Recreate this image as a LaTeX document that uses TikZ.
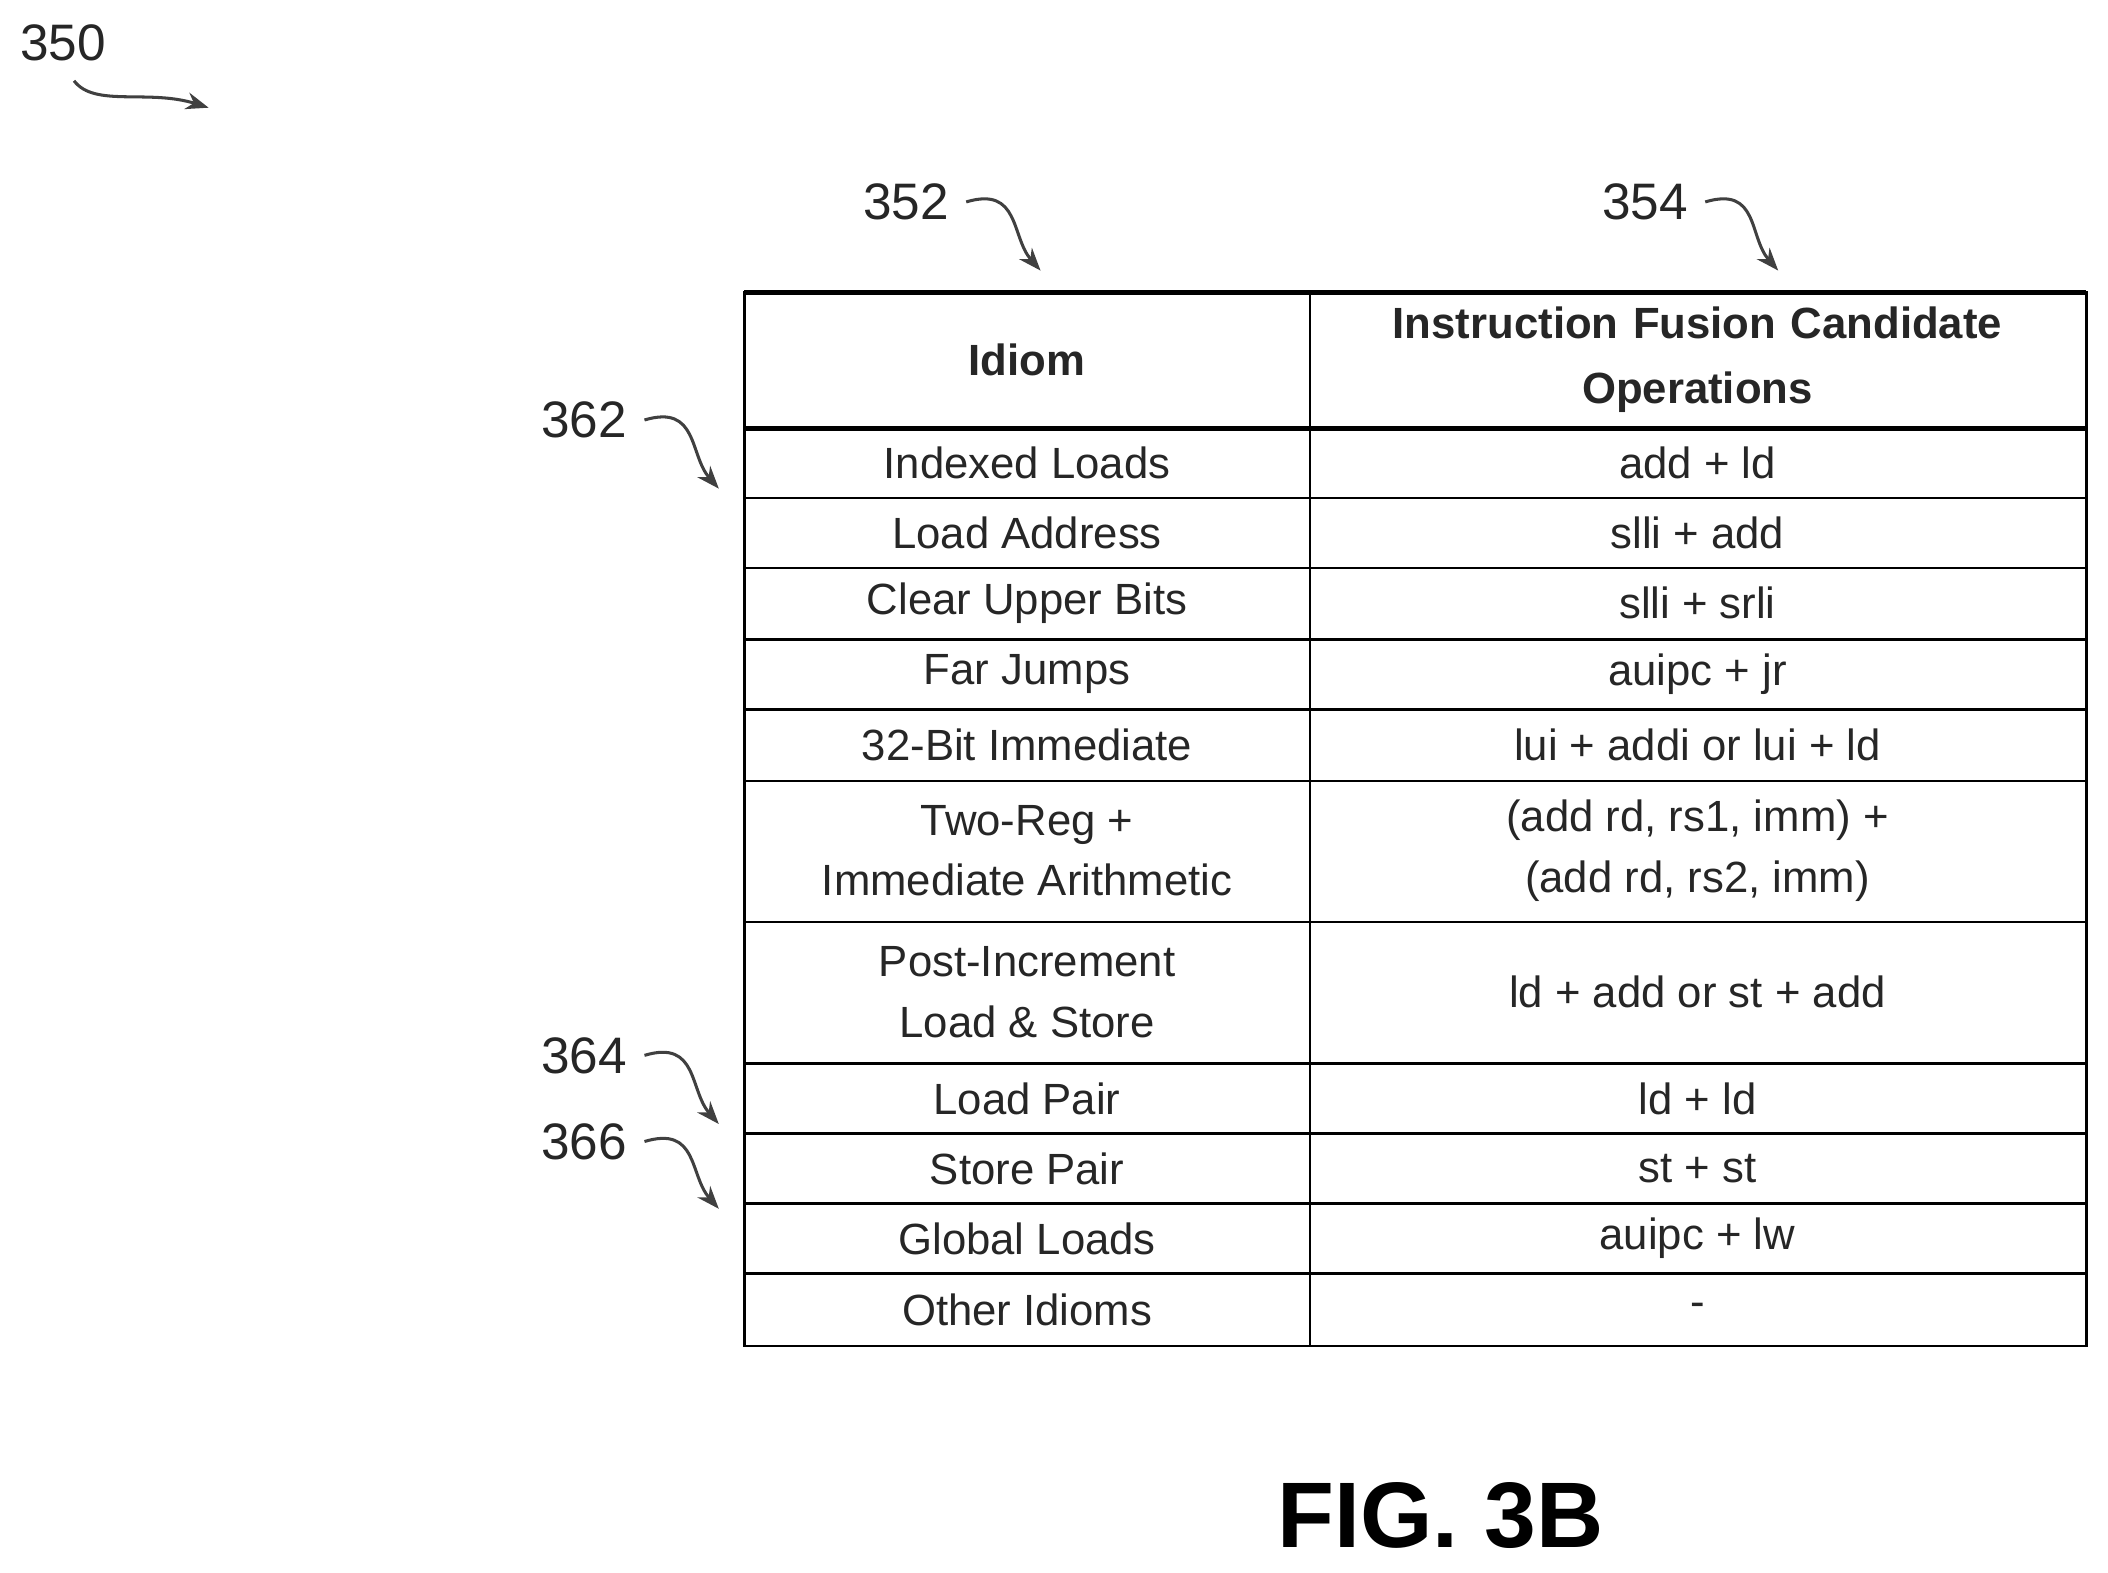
\documentclass[tikz,border=0pt]{standalone}
\usepackage{fontspec}
\setmainfont{Liberation Sans}
\usetikzlibrary{positioning,arrows.meta}
\begin{document}
\begin{tikzpicture}[x=0.0249cm,y=-0.0249cm,>={Stealth[length=12pt,width=9pt]},
  every node/.style={font=\fontsize{23}{29}\selectfont,align=center,text=black!85},
  ref/.style={font=\fontsize{27}{30}\selectfont},
  lead/.style={->,line width=1.6pt,black!75},
  grid/.style={line width=1.3pt},
  thick grid/.style={line width=2.6pt}]
\useasboundingbox (0,0) rectangle (1566,1168);
% reference numerals
\node[ref] (n350) at (47,32) {350};
\node[ref] (n352) at (673,150) {352};
\node[ref] (n354) at (1222,150) {354};
\node[ref] (n362) at (434,312) {362};
\node[ref] (n364) at (434,784) {364};
\node[ref] (n366) at (434,848) {366};
\coordinate (t350) at (155,80);
\coordinate (t352) at (773,201);
\coordinate (t354) at (1321,201);
\coordinate (t362) at (534,363);
\coordinate (t364) at (534,835);
\coordinate (t366) at (534,898);
\draw[lead] (55,60) .. controls (70,80) and (110,66) .. (t350);
\draw[lead] (n352.east) ++(8,0) .. controls +(40,-12) and +(-22,-25) .. (t352);
\draw[lead] (n354.east) ++(8,0) .. controls +(40,-12) and +(-22,-25) .. (t354);
\draw[lead] (n362.east) ++(8,0) .. controls +(40,-12) and +(-22,-25) .. (t362);
\draw[lead] (n364.east) ++(8,0) .. controls +(40,-12) and +(-22,-25) .. (t364);
\draw[lead] (n366.east) ++(8,0) .. controls +(40,-12) and +(-22,-25) .. (t366);
% table grid
\draw[grid] (553,217) rectangle (1550,1000);
\draw[thick grid] (553,217) -- (1550,217);
\draw[thick grid] (553,318) -- (1550,318);
\draw[grid] (553,217) -- (553,318) (1550,217) -- (1550,318);
\draw[grid] (973,217) -- (973,1000);
\foreach \y in {370,422,475,527,580,685,790,842,894,946}
  \draw[grid] (553,\y) -- (1550,\y);
% header
\node[font=\bfseries\fontsize{23}{30}\selectfont] (hidiom) at (763,267) {Idiom};
\node[font=\bfseries\fontsize{23}{30}\selectfont,text width=14cm] (hops) at (1261,267) {Instruction Fusion Candidate\\[4pt]Operations};
% rows
\node (i1) at (763,344) {Indexed Loads};
\node (o1) at (1261,344) {add + ld};
\node (i2) at (763,396) {Load Address};
\node (o2) at (1261,396) {slli + add};
\node (i3) at (763,448) {Clear Upper Bits};
\node (o3) at (1261,448) {slli + srli};
\node (i4) at (763,501) {Far Jumps};
\node (o4) at (1261,501) {auipc + jr};
\node (i5) at (763,553) {32-Bit Immediate};
\node (o5) at (1261,553) {lui + addi or lui + ld};
\node (i6) at (763,632) {Two-Reg +\\[3pt]Immediate Arithmetic};
\node (o6) at (1261,632) {(add rd, rs1, imm) +\\[3pt](add rd, rs2, imm)};
\node (i7) at (763,737) {Post-Increment\\[3pt]Load \& Store};
\node (o7) at (1261,737) {ld + add or st + add};
\node (i8) at (763,816) {Load Pair};
\node (o8) at (1261,816) {ld + ld};
\node (i9) at (763,868) {Store Pair};
\node (o9) at (1261,868) {st + st};
\node (i10) at (763,920) {Global Loads};
\node (o10) at (1261,920) {auipc + lw};
\node (i11) at (763,973) {Other Idioms};
\node (o11) at (1261,973) {-};
% caption
\node[font=\bfseries\fontsize{49}{54}\selectfont,text=black] (fig) at (1070,1126) {FIG. 3B};
\end{tikzpicture}
\end{document}
